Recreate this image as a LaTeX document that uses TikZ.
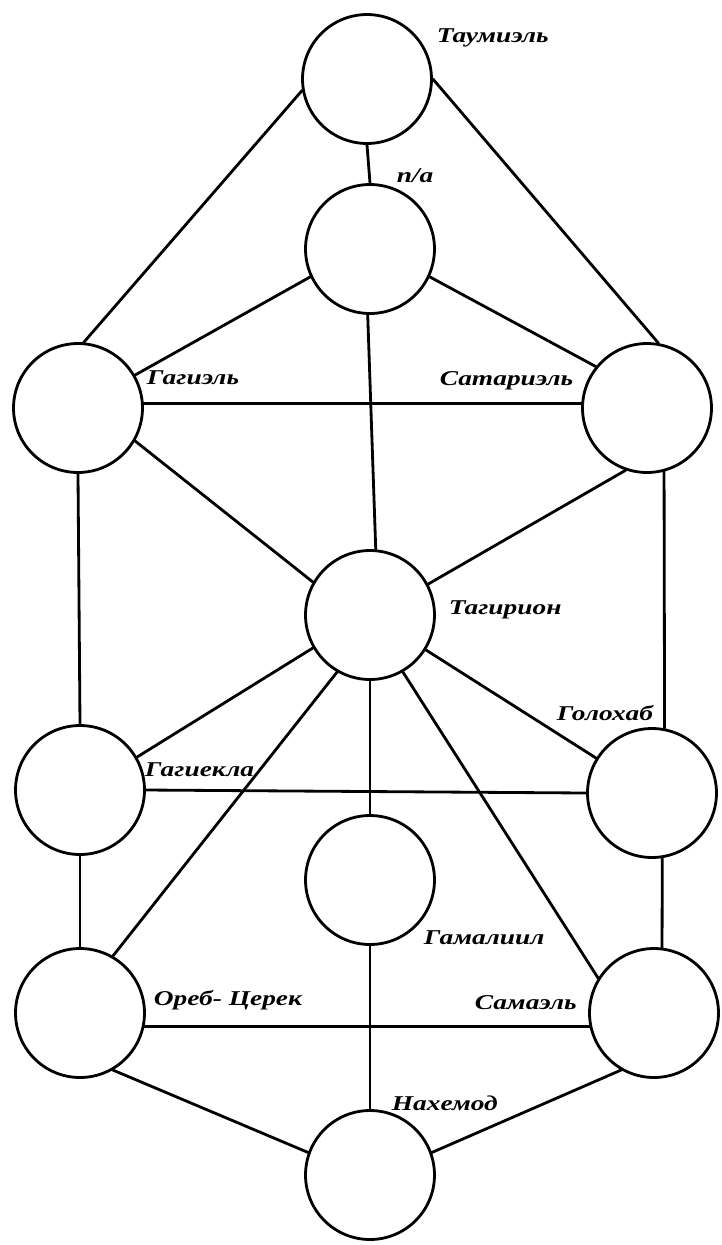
\documentclass[tikz,border=0pt]{standalone}
\usepackage{fontspec}
\setmainfont{Liberation Serif}
\usetikzlibrary{positioning}

\tikzset{
  sfira/.style={draw,circle,minimum size=2.58cm,inner sep=0pt},
  imja/.style={anchor=west,inner sep=0pt,xscale=1.3,
    font=\fontsize{12}{14}\selectfont\bfseries\itshape},
}

\begin{document}
\begin{tikzpicture}[x=0.02cm,y=-0.02cm,line width=1.6pt,line cap=round,line join=round]
  \useasboundingbox (0,0) rectangle (721,1245);

  % --- the eleven circles ---
  \node[sfira] (taum) at (367,79)   {};
  \node[sfira] (na)   at (370,249)  {};
  \node[sfira] (gagi) at (78,408)   {};
  \node[sfira] (sata) at (647,408)  {};
  \node[sfira] (tagi) at (370,615)  {};
  \node[sfira] (gaie) at (80,790)   {};
  \node[sfira] (golo) at (652,793)  {};
  \node[sfira] (gama) at (370,880)  {};
  \node[sfira] (oreb) at (80,1013)  {};
  \node[sfira] (sama) at (654,1013) {};
  \node[sfira] (nahe) at (370,1175) {};

  % --- names ---
  \node[imja] (taum-l) at (435,38)   {Таумиэль};
  \node[imja] (na-l)   at (395,176)  {n/a};
  \node[imja] (gagi-l) at (145,378)  {Гагиэль};
  \node[imja] (sata-l) at (438,381)  {Сатариэль};
  \node[imja] (tagi-l) at (447,610)  {Тагирион};
  \node[imja] (gaie-l) at (143,770)  {Гагиекла};
  \node[imja] (golo-l) at (555,713)  {Голохаб};
  \node[imja] (gama-l) at (422,938)  {Гамалиил};
  \node[imja] (oreb-l) at (152,1000) {Ореб- Церек};
  \node[imja] (sama-l) at (473,1003) {Самаэль};
  \node[imja] (nahe-l) at (390,1103) {Нахемод};

  % --- upper part ---
  \draw (taum.190) -- (gagi.85);
  \draw (taum.0)   -- (sata.80);
  \draw (taum.south) -- (na.north);
  \draw (na.205) -- (gagi.30);
  \draw (na.335) -- (sata.141);
  \draw (na.268) -- (tagi.85);
  \draw (gagi.4) -- (sata.176);
  \draw (gagi.330) -- (tagi.150);
  \draw (sata.251) -- (tagi.28);
  \draw (gagi.south) -- (gaie.north);
  \draw (sata.285) -- (golo.79);

  % --- middle ---
  \draw (tagi.210) -- (gaie.30);
  \draw (tagi.328) -- (golo.148);
  \draw (gaie.east) -- (golo.west);
  \draw (tagi.240) -- (oreb.60);
  \draw (tagi.south) -- (gama.north);
  \draw (tagi.300) -- (sama.148);

  % --- lower part ---
  \draw (gaie.south) -- (oreb.north);
  \draw (golo.279) -- (sama.83);
  \draw (oreb.348) -- (sama.192);
  \draw (gama.south) -- (nahe.north);
  \draw (oreb.300) -- (nahe.160);
  \draw (sama.240) -- (nahe.20);
\end{tikzpicture}
\end{document}
